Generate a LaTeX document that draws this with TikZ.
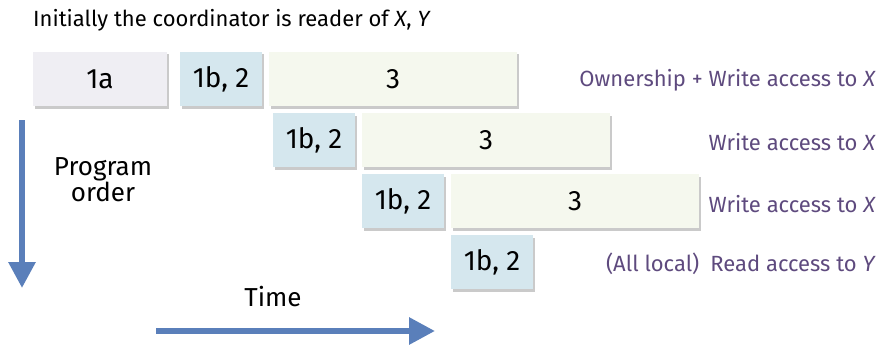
\documentclass[tikz,border=0pt]{standalone}
\usepackage{fontspec}
\setmainfont{Fira Sans}
\usetikzlibrary{arrows.meta,shadows}
\definecolor{cA}{HTML}{EFEEF3}
\definecolor{cB}{HTML}{D5E7EE}
\definecolor{cC}{HTML}{F5F8EE}
\definecolor{lbl}{HTML}{5E4A7E}
\definecolor{arr}{HTML}{5A7FBA}
\tikzset{
  blk/.style={anchor=north west,inner sep=0pt,outer sep=0pt,minimum height=54pt,
     font=\fontsize{28}{28}\selectfont,text=black,
     drop shadow={shadow xshift=2pt,shadow yshift=-2.5pt,opacity=0.35,fill=black!60}},
  blkA/.style={blk,fill=cA,minimum width=134pt},
  blkB/.style={blk,fill=cB,minimum width=82pt},
  blkC/.style={blk,fill=cC,minimum width=248pt},
  rlab/.style={anchor=east,inner sep=0pt,text=lbl,font=\fontsize{22}{22}\selectfont},
  bigarrow/.style={draw=arr,line width=6pt,-{Triangle[width=26pt,length=26pt]}},
  plain/.style={inner sep=0pt,font=\fontsize{26}{28}\selectfont}
}
\begin{document}
\begin{tikzpicture}[x=1pt,y=-1pt]
\useasboundingbox (0,0) rectangle (878,345);
\node[plain,anchor=west,font=\fontsize{22}{22}\selectfont] (title) at (33,20) {Initially the coordinator is reader of \textit{X}, \textit{Y}};
% row 1
\node[blkA] (a1) at (33,52) {1a};
\node[blkB] (b1) at (180,52) {1b, 2};
\node[blkC] (c1) at (269,52) {3};
% row 2
\node[blkB] (b2) at (273,113) {1b, 2};
\node[blkC] (c2) at (362,113) {3};
% row 3
\node[blkB] (b3) at (362,174) {1b, 2};
\node[blkC] (c3) at (451,174) {3};
% row 4
\node[blkB] (b4) at (451,235) {1b, 2};
% right labels
\node[rlab] (l1) at (876,80) {Ownership + Write access to \textit{X}};
\node[rlab] (l2) at (876,142) {Write access to \textit{X}};
\node[rlab] (l3) at (876,204) {Write access to \textit{X}};
\node[rlab] (l4) at (876,264) {(All local)\enspace Read access to \textit{Y}};
% axes
\node[plain,align=center] (po) at (103,180) {Program\\[-2pt]order};
\node[plain] (time) at (273,297) {Time};
\coordinate (v0) at (22,120);
\coordinate (v1) at (22,288);
\coordinate (h0) at (156,331);
\coordinate (h1) at (435,331);
\draw[bigarrow] (v0) -- (v1);
\draw[bigarrow] (h0) -- (h1);
\end{tikzpicture}
\end{document}
